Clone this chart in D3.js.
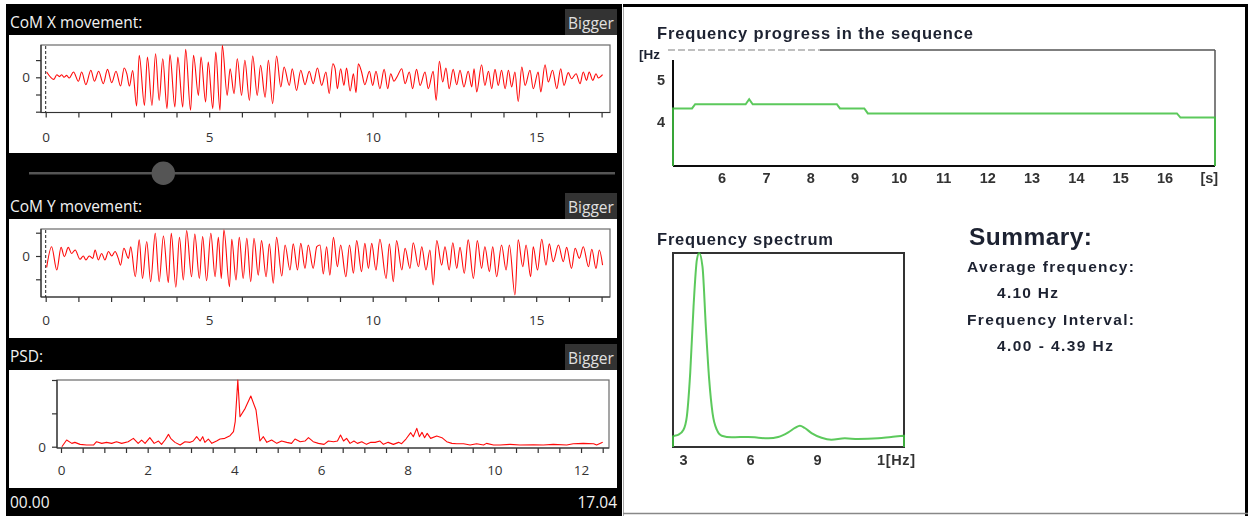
<!DOCTYPE html>
<html>
<head>
<meta charset="utf-8">
<script src="https://cdn.jsdelivr.net/npm/d3@7"></script>
<style>
  body { margin: 0; background: #fff; }
  svg { display: block; }
</style>
</head>
<body>
<svg id="chart" width="1250" height="516"></svg>
<script>
// ---- Centre-of-mass X movement (time in s, displacement in tick units) ----
const comXTime = [0.03,0.25,0.34,0.42,0.49,0.56,0.64,0.72,0.85,1.00,1.10,1.23,1.38,1.49,1.62,1.76,1.89,2.02,2.15,2.29,2.40,2.48,2.56,2.66,2.78,2.86,3.02,3.11,3.25,3.36,3.47,3.58,3.71,3.80,3.95,4.04,4.19,4.28,4.43,4.52,4.67,4.75,4.89,4.97,5.11,5.20,5.33,5.40,5.55,5.64,5.76,5.86,5.99,6.09,6.23,6.33,6.47,6.57,6.71,6.81,6.94,7.06,7.19,7.29,7.45,7.54,7.67,7.80,7.93,8.06,8.18,8.31,8.44,8.57,8.67,8.78,8.85,8.92,9.02,9.12,9.20,9.31,9.41,9.49,9.56,9.66,9.76,9.90,10.00,10.10,10.22,10.35,10.46,10.55,10.65,10.75,10.89,10.99,11.12,11.22,11.34,11.45,11.60,11.70,11.85,11.94,12.04,12.14,12.24,12.34,12.46,12.57,12.67,12.79,12.92,13.03,13.10,13.18,13.33,13.43,13.54,13.64,13.74,13.84,13.94,14.05,14.15,14.25,14.35,14.45,14.56,14.66,14.81,14.91,15.06,15.14,15.27,15.37,15.50,15.63,15.75,15.85,15.98,16.08,16.22,16.34,16.44,16.54,16.62,16.73,16.83,16.90,17.03];
const comXValue = [0.31,-0.12,0.15,0.04,0.15,0.00,0.11,-0.04,0.31,-0.23,0.31,-0.43,0.41,-0.23,0.35,-0.37,0.46,-0.31,0.35,-0.51,0.54,0.21,-0.51,0.39,-1.67,1.28,-1.63,1.18,-1.63,1.37,-1.34,1.08,-1.82,1.32,-1.73,1.18,-1.73,1.63,-1.92,1.28,-1.05,1.18,-1.44,0.89,-1.82,1.47,-1.92,1.86,-1.05,0.50,-0.95,1.08,-1.05,0.99,-1.34,1.24,-1.05,0.70,-1.15,0.99,-1.53,1.24,-0.56,0.60,-0.47,0.50,-0.76,0.41,-0.43,0.35,-0.37,0.54,-0.47,0.31,-0.95,0.79,0.50,-0.66,0.50,-0.47,0.54,-0.80,0.20,-0.89,0.79,0.31,-0.43,0.35,-0.47,0.35,-0.66,0.46,-0.66,0.21,-0.23,0.05,0.50,-0.37,0.31,-0.66,0.46,-0.47,0.31,-0.66,0.35,-1.34,0.93,-0.27,0.54,-0.66,0.46,-0.43,0.41,-0.56,0.35,-0.56,0.50,-0.85,0.73,-0.47,0.35,-0.66,0.46,-0.47,0.41,-0.66,0.41,-0.56,0.31,-1.40,0.60,-0.47,0.41,-0.66,0.31,-0.85,0.73,-0.27,0.41,-0.66,0.50,-0.47,0.27,-0.08,0.21,-0.37,0.31,-0.18,0.31,-0.18,0.21,-0.04,0.15,-0.27];

// ---- Centre-of-mass Y movement ----
const comYTime = [0.03,0.18,0.34,0.47,0.57,0.69,0.79,0.90,1.05,1.15,1.23,1.33,1.44,1.51,1.61,1.71,1.81,1.92,2.02,2.12,2.22,2.29,2.39,2.53,2.60,2.74,2.86,2.96,3.09,3.21,3.35,3.47,3.60,3.75,3.84,3.98,4.09,4.21,4.31,4.46,4.56,4.70,4.80,4.92,5.05,5.18,5.28,5.37,5.45,5.62,5.69,5.82,5.92,6.04,6.15,6.27,6.37,6.50,6.60,6.74,6.84,6.96,7.06,7.22,7.32,7.47,7.57,7.70,7.80,7.93,8.03,8.18,8.29,8.39,8.49,8.59,8.69,8.80,8.92,9.02,9.18,9.29,9.41,9.51,9.66,9.76,9.87,9.97,10.10,10.22,10.41,10.51,10.63,10.73,10.89,10.99,11.14,11.24,11.40,11.50,11.63,11.75,11.85,11.96,12.11,12.21,12.34,12.45,12.57,12.67,12.80,12.92,13.08,13.20,13.33,13.43,13.57,13.67,13.79,13.94,14.08,14.18,14.35,14.45,14.59,14.69,14.83,14.91,15.04,15.17,15.30,15.40,15.52,15.68,15.83,15.93,16.08,16.19,16.32,16.44,16.60,16.70,16.83,16.93,17.03];
const comYValue = [-0.49,0.40,-0.60,0.37,-0.03,0.37,0.11,0.26,-0.14,0.00,-0.17,0.00,-0.10,0.26,-0.17,0.11,-0.17,0.19,0.00,0.19,-0.10,-0.39,0.33,-0.10,0.40,-0.89,0.69,-0.96,0.62,-1.10,0.97,-1.10,0.86,-1.14,0.97,-1.34,0.80,-1.03,1.09,-0.89,0.94,-0.96,0.83,-1.06,0.97,-0.89,0.80,-0.96,1.12,-1.32,0.72,-1.03,0.80,-0.96,0.76,-1.10,0.76,-0.82,0.66,-0.89,0.52,-1.17,0.80,-0.86,0.47,-0.60,0.52,-0.60,0.54,-0.53,0.47,-0.53,0.40,0.47,-0.77,0.40,-0.82,0.80,-0.46,0.47,-0.89,0.47,-0.74,0.66,-0.67,0.54,-0.53,0.54,-0.60,0.72,-0.96,0.52,-1.10,0.66,-0.60,0.33,-0.53,0.57,-0.46,0.40,-0.60,0.26,-1.24,0.66,-0.39,0.40,-0.60,0.57,-0.53,0.37,-0.74,0.69,-0.96,0.66,-0.53,0.40,-0.67,0.40,-0.89,0.47,-0.60,0.47,-1.67,0.69,-0.46,0.47,-0.89,0.40,-0.60,0.72,-0.39,0.52,-0.24,0.47,-0.24,0.37,-0.53,0.33,-0.10,0.40,-0.46,0.29,-0.53,0.26,-0.39];

// ---- Power spectral density (frequency in Hz, power in tick units) ----
const psdFreq = [0.02,0.13,0.25,0.32,0.44,0.59,0.75,0.82,0.94,1.05,1.17,1.28,1.40,1.55,1.67,1.78,1.86,1.94,2.05,2.15,2.25,2.32,2.40,2.48,2.53,2.63,2.75,2.86,2.98,3.05,3.13,3.21,3.27,3.32,3.40,3.48,3.59,3.67,3.78,3.90,3.98,4.02,4.08,4.13,4.25,4.38,4.50,4.59,4.67,4.75,4.86,4.98,5.09,5.21,5.32,5.40,5.52,5.63,5.71,5.82,5.94,6.07,6.17,6.29,6.38,6.45,6.52,6.59,6.67,6.76,6.84,6.94,7.05,7.15,7.25,7.36,7.44,7.55,7.67,7.79,7.86,7.96,8.07,8.13,8.21,8.27,8.33,8.39,8.45,8.53,8.67,8.79,8.90,9.02,9.13,9.29,9.44,9.59,9.75,9.82,9.98,10.13,10.36,10.59,10.90,11.13,11.36,11.67,11.82,12.05,12.29,12.36,12.50];
const psdPower = [0.00,0.20,0.10,0.13,0.07,0.05,0.05,0.15,0.10,0.13,0.10,0.15,0.10,0.15,0.25,0.10,0.20,0.10,0.27,0.10,0.17,0.07,0.20,0.37,0.25,0.13,0.05,0.15,0.13,0.17,0.30,0.17,0.30,0.13,0.23,0.10,0.17,0.23,0.25,0.33,0.45,0.75,2.00,0.90,1.15,1.52,1.10,0.17,0.30,0.13,0.20,0.10,0.17,0.13,0.10,0.23,0.15,0.17,0.27,0.15,0.10,0.07,0.17,0.15,0.17,0.35,0.17,0.25,0.10,0.17,0.10,0.15,0.07,0.13,0.13,0.17,0.07,0.13,0.07,0.13,0.09,0.23,0.42,0.30,0.55,0.30,0.43,0.27,0.40,0.25,0.32,0.27,0.15,0.10,0.09,0.09,0.05,0.09,0.05,0.10,0.05,0.05,0.07,0.05,0.06,0.05,0.07,0.05,0.09,0.10,0.09,0.05,0.13];

// ---- Frequency progress over the sequence (s -> Hz) ----
const progressTime = [4.89,5.32,5.39,6.53,6.61,6.69,8.59,8.66,9.21,9.29,16.27,16.35,17.13];
const progressFreq = [4.32,4.32,4.42,4.42,4.54,4.42,4.42,4.32,4.32,4.20,4.20,4.10,4.10];

// ---- Frequency spectrum (Hz -> relative amplitude) ----
const spectrumFreq = [2.53,2.78,3.00,3.15,3.30,3.45,3.60,3.70,3.85,4.00,4.15,4.30,4.49,4.71,5.16,5.90,6.35,6.80,7.24,7.69,7.99,8.21,8.43,8.73,9.18,9.62,10.22,10.81,11.71,12.30,12.87];
const spectrumAmp  = [0.055,0.064,0.089,0.158,0.381,0.725,0.966,1.000,0.930,0.620,0.347,0.175,0.089,0.058,0.050,0.052,0.048,0.045,0.052,0.076,0.098,0.110,0.098,0.072,0.048,0.038,0.045,0.041,0.045,0.052,0.058];

// ---- Tick labels ----
const comTickLabels = [0, 5, 10, 15];
const psdTickLabels = [0, 2, 4, 6, 8, 10, 12];
const progressTickLabels = ["6","7","8","9","10","11","12","13","14","15","16","[s]"];
const progressYLabels = ["5","4"];
const spectrumTickLabels = ["3","6","9"];

// ---- Summary texts ----
const summaryTitle = "Summary:";
const summaryRows = ["Average frequency:", "4.10 Hz", "Frequency Interval:", "4.00 - 4.39 Hz"];

const svg = d3.select("#chart");
const uiFont = "'Open Sans', 'Noto Sans', sans-serif";
const reportFont = "'Liberation Sans', Arial, sans-serif";

// soft filter for the report image on the right
const defs = svg.append("defs");
defs.append("filter").attr("id", "soft").attr("x", "-5%").attr("y", "-5%").attr("width", "110%").attr("height", "110%")
  .append("feGaussianBlur").attr("stdDeviation", 0.5);

// ================= LEFT: black control panel =================
svg.append("rect").attr("x", 6).attr("y", 4).attr("width", 616).attr("height", 512).attr("fill", "#000");

function header(title, textY, btnY0, btnY1) {
  svg.append("text").attr("x", 10).attr("y", textY).attr("fill", "#f2f2f2")
    .style("font-family", uiFont).style("font-size", "15.5px").text(title);
  svg.append("rect").attr("x", 565).attr("y", btnY0).attr("width", 52).attr("height", btnY1 - btnY0).attr("fill", "#333");
  svg.append("text").attr("x", 591).attr("y", btnY1 - 6).attr("text-anchor", "middle").attr("fill", "#e0e0e0")
    .style("font-family", uiFont).style("font-size", "15.5px").text("Bigger");
}

function signalPanel(o) {
  svg.append("rect").attr("x", 9).attr("y", o.areaTop).attr("width", 608).attr("height", o.areaBottom - o.areaTop).attr("fill", "#fff");
  const g = svg.append("g");
  // frame
  g.append("rect").attr("x", o.fx0).attr("y", o.fy0).attr("width", o.fx1 - o.fx0).attr("height", o.fy1 - o.fy0)
    .attr("fill", "none").attr("stroke", "#6a6a6a").attr("stroke-width", 1.2);
  // axes
  const ax = g.append("g").attr("transform", `translate(0,${o.fy1})`)
    .call(d3.axisBottom(o.x).tickValues(o.xTicks).tickSize(5).tickFormat(d => o.xLabels.includes(d) ? d : ""));
  const ay = g.append("g").attr("transform", `translate(${o.fx0},0)`)
    .call(d3.axisLeft(o.y).tickValues(o.yTicks).tickSize(5).tickFormat(d => d === 0 ? "0" : ""));
  [ax, ay].forEach(a => {
    a.select(".domain").remove();
    a.selectAll("line").attr("stroke", "#333").attr("stroke-width", 1.2);
    a.selectAll("text").attr("fill", "#333").style("font-family", uiFont).style("font-size", "13.5px");
  });
  ax.selectAll("text").attr("dy", null).attr("y", o.labelY - o.fy1);
  ay.selectAll("text").attr("x", -11);
  g.append("line").attr("x1", o.fx0).attr("x2", o.fx1).attr("y1", o.fy1).attr("y2", o.fy1).attr("stroke", "#333").attr("stroke-width", 1.2);
  g.append("line").attr("x1", o.fx0).attr("x2", o.fx0).attr("y1", o.fy0).attr("y2", o.fy1).attr("stroke", "#333").attr("stroke-width", 1.2);
  if (o.marker) {
    g.append("line").attr("x1", o.x(0)).attr("x2", o.x(0)).attr("y1", o.fy0 + 1).attr("y2", o.fy1)
      .attr("stroke", "#222").attr("stroke-width", 1).attr("stroke-dasharray", "3,2");
  }
  const line = d3.line().x(d => o.x(d[0])).y(d => o.y(d[1])).curve(o.curve || d3.curveLinear);
  g.append("path").datum(d3.zip(o.xs, o.ys)).attr("d", line)
    .attr("fill", "none").attr("stroke", "#ff0a0a").attr("stroke-width", 1.1).attr("stroke-linejoin", "round");
}

// CoM X
header("CoM X movement:", 28, 9, 35);
signalPanel({
  areaTop: 35, areaBottom: 153, fx0: 41, fx1: 610, fy0: 45, fy1: 112.5, labelY: 142,
  x: d3.scaleLinear([0, 17.04], [45.7, 602.9]),
  y: d3.scaleLinear([-2, 1], [111.7, 60.1]),
  xTicks: d3.range(0, 18), xLabels: comTickLabels, yTicks: [-2, -1, 0, 1],
  xs: comXTime, ys: comXValue, marker: true, curve: d3.curveMonotoneX
});

// position slider
svg.append("line").attr("x1", 29).attr("x2", 615).attr("y1", 173.3).attr("y2", 173.3).attr("stroke", "#555").attr("stroke-width", 2.5);
svg.append("circle").attr("cx", 163.3).attr("cy", 173.3).attr("r", 11.7).attr("fill", "#555");

// CoM Y
header("CoM Y movement:", 212, 193, 219);
signalPanel({
  areaTop: 219, areaBottom: 338, fx0: 41, fx1: 610, fy0: 229, fy1: 297, labelY: 325,
  x: d3.scaleLinear([0, 17.04], [45.7, 602.9]),
  y: d3.scaleLinear([-1, 1], [279.3, 232.7]),
  xTicks: d3.range(0, 18), xLabels: comTickLabels, yTicks: [-1, 0, 1],
  xs: comYTime, ys: comYValue, marker: true, curve: d3.curveMonotoneX
});

// PSD
header("PSD:", 362, 344, 370);
signalPanel({
  areaTop: 370, areaBottom: 488, fx0: 57, fx1: 609, fy0: 380, fy1: 448, labelY: 475,
  x: d3.scaleLinear([0, 12.5], [61, 602.7]),
  y: d3.scaleLinear([0, 2], [446.7, 380]),
  xTicks: d3.range(0, 12.51, 0.5), xLabels: psdTickLabels, yTicks: [0, 1, 2],
  xs: psdFreq, ys: psdPower, marker: false
});

// playback times
svg.append("text").attr("x", 10).attr("y", 508).attr("fill", "#f2f2f2").style("font-family", uiFont).style("font-size", "15.5px").text("00.00");
svg.append("text").attr("x", 617).attr("y", 508).attr("text-anchor", "end").attr("fill", "#f2f2f2").style("font-family", uiFont).style("font-size", "15.5px").text("17.04");

// ================= RIGHT: frequency report =================
const R = svg.append("g").attr("filter", "url(#soft)");
R.append("rect").attr("x", 623).attr("y", 4).attr("width", 625).attr("height", 512).attr("fill", "#fff");
R.append("line").attr("x1", 623.5).attr("x2", 623.5).attr("y1", 4).attr("y2", 516).attr("stroke", "#aaa");
R.append("line").attr("x1", 623).attr("x2", 1248).attr("y1", 5.5).attr("y2", 5.5).attr("stroke", "#000").attr("stroke-width", 3);
R.append("line").attr("x1", 1246.5).attr("x2", 1246.5).attr("y1", 4).attr("y2", 516).attr("stroke", "#000").attr("stroke-width", 3);
R.append("line").attr("x1", 623).attr("x2", 1248).attr("y1", 513.5).attr("y2", 513.5).attr("stroke", "#888").attr("stroke-width", 1.5);

const ink = "#1e2230";
function rtext(str, x, y, size, width, anchor) {
  const t = R.append("text").attr("x", x).attr("y", y).attr("fill", ink)
    .attr("text-anchor", anchor || "start")
    .style("font-family", reportFont).style("font-weight", "bold").style("font-size", size + "px").text(str);
  if (width) t.attr("textLength", width).attr("lengthAdjust", "spacing");
  return t;
}

// --- frequency progress chart ---
const xP = d3.scaleLinear([4.89, 17.13], [673, 1215]);
const yP = d3.scaleLinear([2.94, 5.72], [166, 50]);
rtext("Frequency progress in the sequence", 657, 39, 16.5, 316);
rtext("[Hz", 639, 59, 13.5);
R.append("line").attr("x1", 668).attr("x2", 820).attr("y1", 50).attr("y2", 50).attr("stroke", "#aaa").attr("stroke-width", 1.5).attr("stroke-dasharray", "7,3");
R.append("line").attr("x1", 820).attr("x2", 1215).attr("y1", 50).attr("y2", 50).attr("stroke", "#555").attr("stroke-width", 1.5);
R.append("line").attr("x1", 1215).attr("x2", 1215).attr("y1", 50).attr("y2", 166).attr("stroke", "#555").attr("stroke-width", 1.5);
R.append("line").attr("x1", 673).attr("x2", 673).attr("y1", 60).attr("y2", 166).attr("stroke", "#111").attr("stroke-width", 2);
R.append("line").attr("x1", 673).attr("x2", 1215).attr("y1", 166).attr("y2", 166).attr("stroke", "#111").attr("stroke-width", 2);
const progressPts = [[progressTime[0], yP.domain()[0]]]
  .concat(d3.zip(progressTime, progressFreq))
  .concat([[progressTime[progressTime.length - 1], yP.domain()[0]]]);
R.append("path").datum(progressPts)
  .attr("d", d3.line().x(d => xP(d[0])).y(d => yP(d[1])))
  .attr("fill", "none").attr("stroke", "#3fbf3f").attr("stroke-width", 2).attr("stroke-opacity", 0.85);
progressYLabels.forEach(l => rtext(l, 665, yP(+l) + 5, 14.5, null, "end").attr("fill", "#333"));
progressTickLabels.forEach((l, i) => rtext(l, xP(6 + i), 183, 14.5, null, "middle").attr("fill", "#333"));

// --- frequency spectrum chart ---
const xS = d3.scaleLinear([2.53, 12.87], [673, 904]);
const yS = d3.scaleLinear([0, 1], [447, 253]);
rtext("Frequency spectrum", 657, 244.5, 16.5, 176);
R.append("rect").attr("x", 673).attr("y", 253).attr("width", 231).attr("height", 194)
  .attr("fill", "none").attr("stroke", "#333").attr("stroke-width", 2);
const spectrumPts = [[spectrumFreq[0], 0]]
  .concat(d3.zip(spectrumFreq, spectrumAmp))
  .concat([[spectrumFreq[spectrumFreq.length - 1], 0]]);
R.append("path").datum(spectrumPts)
  .attr("d", d3.line().x(d => xS(d[0])).y(d => yS(d[1])).curve(d3.curveMonotoneX))
  .attr("fill", "none").attr("stroke", "#3fbf3f").attr("stroke-width", 2).attr("stroke-opacity", 0.85);
spectrumTickLabels.forEach(l => rtext(l, xS(+l), 465, 14.5, null, "middle").attr("fill", "#333"));
rtext("1[Hz]", 877, 465, 14.5, 38).attr("fill", "#333");

// --- summary ---
rtext(summaryTitle, 969, 245, 24.5, 123);
rtext(summaryRows[0], 967, 271.5, 15.5, 167);
rtext(summaryRows[1], 997, 298, 15.5, 61);
rtext(summaryRows[2], 967, 324.5, 15.5, 167);
rtext(summaryRows[3], 997, 350.5, 15.5, 116);
</script>
</body>
</html>
